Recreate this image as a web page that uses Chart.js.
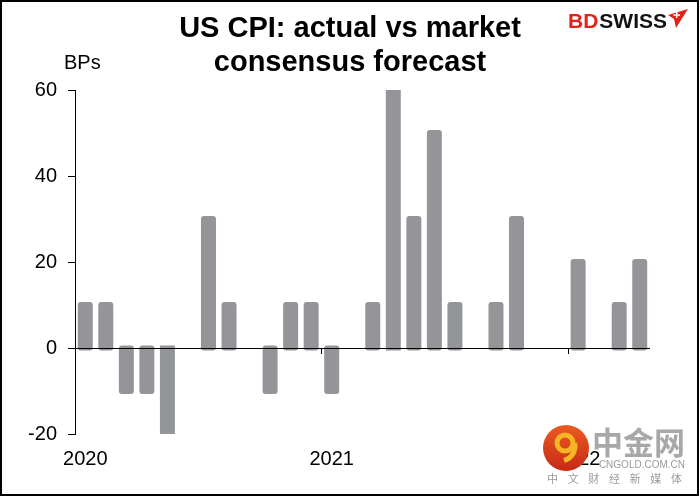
<!DOCTYPE html>
<html><head><meta charset="utf-8">
<script src="https://cdn.jsdelivr.net/npm/chart.js@4.4.0/dist/chart.umd.min.js"></script>
<style>html,body{margin:0;padding:0;background:#fff;} #wrap{position:relative;width:700px;height:497px;} canvas{display:block;}</style>
</head><body><div id="wrap"><canvas id="c" width="700" height="497"></canvas></div>
<script>
// ---- data ----
const months = ['2020-01','2020-02','2020-03','2020-04','2020-05','2020-06','2020-07','2020-08','2020-09','2020-10','2020-11','2020-12',
                '2021-01','2021-02','2021-03','2021-04','2021-05','2021-06','2021-07','2021-08','2021-09','2021-10','2021-11','2021-12',
                '2022-01','2022-02','2022-03','2022-04'];
const surpriseBps = [10,10,-10,-10,-20,0,30,10,0,-10,10,10,
                     -10,0,10,60,30,50,10,0,10,30,0,0,
                     20,0,10,20];
const yTickValues = [-20,0,20,40,60];
const titleLines = ['US CPI: actual vs market','consensus forecast'];
const yUnitLabel = 'BPs';
const brandParts = ['BD','SWISS'];
const watermarkLines = ['中金网','CNGOLD.COM.CN','中文财经新媒体'];

const FONT = "'Liberation Sans', Arial, sans-serif";
const yMin = Math.min(...yTickValues), yMax = Math.max(...yTickValues);
const CAP = 3; // rounded cap overhang of bars (px)

const capPlugin = {
  id:'caps',
  beforeDatasetsDraw(chart){
    chart.getDatasetMeta(0).data.forEach((bar,i)=>{
      if(!surpriseBps[i]) return;
      const top = Math.min(bar.y, bar.base) - CAP, bottom = Math.max(bar.y, bar.base) + CAP;
      if(bar.y < bar.base){ bar.y = top; bar.base = bottom; } else { bar.y = bottom; bar.base = top; }
    });
  },
  afterDatasetsDraw(chart){
    const ctx = chart.ctx, ys = chart.scales.y, a = chart.chartArea;
    const y0 = Math.round(ys.getPixelForValue(0)) + 0.5;
    ctx.save(); ctx.strokeStyle = '#000'; ctx.lineWidth = 1;
    ctx.beginPath(); ctx.moveTo(a.left, y0); ctx.lineTo(a.right, y0); ctx.stroke();
    ctx.restore();
  }
};

const decor = {
  id:'decor',
  afterDraw(chart){
    const ctx = chart.ctx;
    const xs = chart.scales.x, ys = chart.scales.y;
    ctx.save();
    // year divider ticks on the zero line
    const y0 = Math.round(ys.getPixelForValue(0));
    ctx.strokeStyle = '#000'; ctx.lineWidth = 1;
    months.forEach((m,i)=>{
      if(i>0 && m.endsWith('-01')){
        const x = Math.round((xs.getPixelForValue(i-1)+xs.getPixelForValue(i))/2)+0.5;
        ctx.beginPath(); ctx.moveTo(x,y0); ctx.lineTo(x,y0+6); ctx.stroke();
      }
    });
    // title
    ctx.fillStyle = '#000'; ctx.textAlign = 'center'; ctx.textBaseline = 'alphabetic';
    ctx.font = 'bold 29px ' + FONT;
    ctx.fillText(titleLines[0], 350, 37);
    ctx.fillText(titleLines[1], 350, 71);
    // unit label
    ctx.font = '20px ' + FONT; ctx.textAlign = 'left';
    ctx.fillText(yUnitLabel, 64, 69);
    // brand
    ctx.font = 'bold 21px ' + FONT;
    ctx.fillStyle = '#e2231a';
    ctx.fillText(brandParts[0], 568, 28);
    const w0 = ctx.measureText(brandParts[0]).width;
    ctx.fillStyle = '#111';
    ctx.fillText(brandParts[1], 568 + w0 + 1, 28);
    ctx.fillStyle = '#e2231a';
    ctx.beginPath(); ctx.moveTo(668,15); ctx.lineTo(688,9); ctx.lineTo(676,28); ctx.lineTo(674,19); ctx.closePath(); ctx.fill();
    ctx.fillStyle = '#fff';
    ctx.fillRect(676,12,1.5,6); ctx.fillRect(673.5,14.3,6.5,1.5);
    // watermark
    const g = ctx.createLinearGradient(566,425,566,471);
    g.addColorStop(0,'#ec5a1f'); g.addColorStop(1,'#c52a18');
    ctx.fillStyle = g;
    ctx.beginPath(); ctx.arc(566,448,23,0,Math.PI*2); ctx.fill();
    ctx.strokeStyle = '#f6b524'; ctx.lineWidth = 5;
    ctx.beginPath(); ctx.arc(565,443,8,0,Math.PI*2); ctx.stroke();
    ctx.beginPath(); ctx.arc(560,446,15,-0.2,1.3); ctx.stroke();
    ctx.fillStyle = '#a8a8a8';
    ctx.font = "bold 31px 'Noto Sans CJK SC'"; ctx.textAlign = 'left'; ctx.textBaseline = 'middle';
    ctx.fillText(watermarkLines[0], 592, 442);
    ctx.font = '10px ' + FONT; ctx.textAlign = 'right'; ctx.textBaseline = 'alphabetic';
    ctx.fillStyle = '#9a9a9a';
    ctx.fillText(watermarkLines[1], 685, 468);
    ctx.font = "11px 'Noto Sans CJK SC'"; ctx.textAlign = 'left';
    const chars = [...watermarkLines[2]];
    chars.forEach((c,i)=>ctx.fillText(c, 547 + i*(124/6), 483));
    // frame
    ctx.strokeStyle = '#000'; ctx.lineWidth = 2;
    ctx.strokeRect(1,1,697,494);
    ctx.restore();
  }
};

new Chart(document.getElementById('c'), {
  type:'bar',
  data:{
    labels: months,
    datasets:[{
      data: surpriseBps,
      backgroundColor:'#949599',
      borderWidth:0,
      borderSkipped:false,
      borderRadius: c => (c.raw >= yMax || c.raw <= yMin) ? 0 : 3,
      barPercentage:0.73,
      categoryPercentage:1
    }]
  },
  options:{
    responsive:false, animation:false, devicePixelRatio:1,
    layout:{padding:{top:90,right:50,left:0,bottom:0}},
    plugins:{legend:{display:false}, tooltip:{enabled:false}, title:{display:false}},
    scales:{
      x:{
        offset:true,
        grid:{display:false, drawTicks:false},
        border:{display:false},
        ticks:{autoSkip:false, maxRotation:0, minRotation:0, padding:13, color:'#000',
               font:{family:FONT, size:20},
               callback:(v,i)=> months[i].endsWith('-01') ? months[i].slice(0,4) : ''},
        afterFit:s=>{s.height = 63;}
      },
      y:{
        min:yMin, max:yMax,
        afterBuildTicks:s=>{ s.ticks = yTickValues.map(v=>({value:v})); },
        ticks:{padding:11, color:'#000', font:{family:FONT, size:20}},
        grid:{drawOnChartArea:false, drawTicks:true, tickLength:7, tickColor:'#000', lineWidth:1},
        border:{display:true, color:'#000', width:1},
        afterFit:s=>{s.width = 75;}
      }
    }
  },
  plugins:[capPlugin, decor]
});
</script>
</body></html>
